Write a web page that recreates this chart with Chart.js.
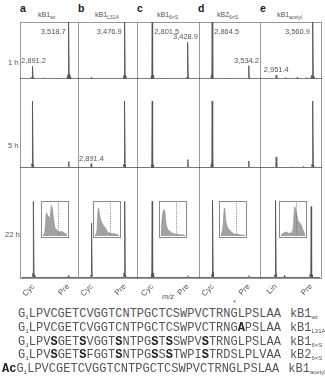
<!DOCTYPE html>
<html>
<head>
<meta charset="utf-8">
<script src="https://cdn.jsdelivr.net/npm/chart.js@4.4.1/dist/chart.umd.min.js"></script>
<style>
  body { margin: 0; background: #fff; }
  #fig { position: relative; width: 325px; height: 376px; overflow: hidden; font-family: "Liberation Sans", Arial, sans-serif; color: #444; }
  .abs { position: absolute; }
  .frame { position: absolute; box-sizing: border-box; border: 1px solid #999; }
  .letter { position: absolute; font-weight: bold; font-size: 10.5px; line-height: 1; color: #222; }
  .title { position: absolute; font-size: 7px; line-height: 1; color: #555; white-space: nowrap; }
  .title sub, .kb sub { font-size: 5px; vertical-align: -2px; line-height: 0; }
  .rowlab { position: absolute; font-size: 7.5px; line-height: 1; color: #555; white-space: nowrap; }
  .inset { position: absolute; box-sizing: border-box; border: 1px solid #888; background: #fff; }
  .seqline { position: absolute; left: 0; height: 14px; font-family: "Liberation Mono", monospace; font-size: 12px; line-height: 14px; color: #555; white-space: pre; }
  .seqline b { color: #222; }
  .g1 { position: relative; }
  .g1 .star { position: absolute; left: 2px; top: -7px; font-size: 7px; line-height: 1; }
  .s1 { font-size: 6px; vertical-align: -2px; line-height: 0; }
  .kb { margin-left: 9px; }
  .kb sub { font-family: "Liberation Sans", Arial, sans-serif; font-size: 6px; }
</style>
</head>
<body>
<div id="fig"></div>
<script>
// panels a-e, x range in m/z
const panelLetters = ['a', 'b', 'c', 'd', 'e'];
const titleMain = ['kB1', 'kB1', 'kB1', 'kB2', 'kB1'];
const titleSub = ['wt', 'L31A', '6\u00d7S', '6\u00d7S', 'acetyl'];
const mzMin = [2670, 2661, 2533, 2623, 2681];
const mzMax = [3697, 3708, 3643, 3758, 3712];
const tickMz = [[2891.2, 3518.7], [2891.4, 3476.9], [2801.5, 3428.9], [2864.5, 3534.2], [2951.4, 3560.9]];
const tickNames = [['Cyc', 'Pre'], ['Cyc', 'Pre'], ['Cyc', 'Pre'], ['Cyc', 'Pre'], ['Lin', 'Pre']];
const times = ['1 h', '5 h', '22 h'];

// peak lists [m/z, relative intensity]
const spec1h = [
  [[2876, 3], [2891.2, 22], [2906, 2], [3100, 1.5], [3300, 1], [3496, 4], [3508, 8], [3518.7, 100], [3530, 7], [3544, 3]],
  [[2891, 2], [3200, 1], [3460, 4], [3468, 7], [3476.9, 100], [3489, 5]],
  [[2786, 5], [2801.5, 100], [2815, 6], [2830, 3], [3000, 1], [3412, 3], [3428.9, 64], [3444, 3]],
  [[2850, 6], [2864.5, 100], [2879, 5], [3200, 1], [3534.2, 23], [3549, 2]],
  [[2951.4, 6], [3100, 1.5], [3300, 2], [3450, 1.5], [3530, 3], [3545, 6], [3560.9, 100], [3575, 5], [3590, 3]]
];
const spec5h = [
  [[2878, 6], [2891.2, 100], [2905, 5], [3518.7, 9]],
  [[2891.4, 6], [3200, 1], [3460, 5], [3476.9, 100], [3490, 4]],
  [[2788, 5], [2801.5, 100], [2815, 4], [3428.9, 12]],
  [[2850, 6], [2864.5, 100], [2878, 6], [3534.2, 10]],
  [[2951.4, 16], [3200, 1], [3400, 1.5], [3545, 5], [3560.9, 100], [3575, 4]]
];
const spec22h = [
  [[2878, 5], [2891.2, 87], [2905, 3], [3518.7, 2]],
  [[2878, 3], [2891.4, 62], [3460, 5], [3476.9, 87], [3490, 3]],
  [[2788, 4], [2801.5, 87], [2815, 5], [2830, 2], [3428.9, 2]],
  [[2850, 4], [2864.5, 88], [2878, 6], [3534.2, 2]],
  [[2935, 3], [2951.4, 88], [2965, 4], [3100, 2], [3545, 4], [3560.9, 81], [3575, 3]]
];
const spectra = [spec1h, spec5h, spec22h];

// peak annotations [m/z, text, side]
const labels1h = [
  [[3518.7, '3,518.7', 'left'], [2891.2, '2,891.2', 'above']],
  [[3476.9, '3,476.9', 'left']],
  [[2801.5, '2,801.5', 'right'], [3428.9, '3,428.9', 'above']],
  [[2864.5, '2,864.5', 'right'], [3534.2, '3,534.2', 'above']],
  [[3560.9, '3,560.9', 'left'], [2951.4, '2,951.4', 'above']]
];
const labels5h = [[], [[2891.4, '2,891.4', 'above']], [], [], []];
const labels22h = [[], [], [], [], []];
const peakLabels = [labels1h, labels5h, labels22h];

// HPLC insets at 22 h (relative absorbance)
const insetA = [2, 10, 70, 60, 55, 92, 60, 25, 18, 14, 12, 14, 10, 8, 3];
const insetB = [2, 10, 85, 55, 40, 32, 25, 15, 10, 8, 6, 8, 5, 4, 2];
const insetC = [3, 70, 80, 35, 20, 15, 10, 8, 6, 5, 5, 4, 4, 3, 2];
const insetD = [3, 20, 85, 40, 25, 18, 12, 8, 6, 5, 5, 4, 3, 3, 2];
const insetE = [2, 8, 10, 12, 10, 8, 10, 20, 88, 70, 45, 40, 30, 15, 5];
const insets = [insetA, insetB, insetC, insetD, insetE];
const insetMarks = [8.8, 8.8, 8.5, 8.8, 8.5];

// layout
const colX = [20, 78, 137, 199, 260];
const colW = [58, 59, 62, 61, 61];
const rowTop = [22, 101, 190];
const rowH = [79, 89, 88];
const axisH = 22;

Chart.defaults.font.family = '"Liberation Sans", Arial, sans-serif';
Chart.defaults.animation = false;

const fig = document.getElementById('fig');

function addDiv(cls, left, top, w, h, html) {
  const d = document.createElement('div');
  d.className = cls;
  d.style.left = left + 'px';
  d.style.top = top + 'px';
  if (w) d.style.width = w + 'px';
  if (h) d.style.height = h + 'px';
  if (html) d.innerHTML = html;
  fig.appendChild(d);
  return d;
}

function spikes(peaks, lo, hi) {
  const pts = [{ x: lo, y: 0 }];
  peaks.slice().sort((p, q) => p[0] - q[0]).forEach(p => {
    pts.push({ x: p[0] - 8, y: 0 }, { x: p[0], y: p[1] }, { x: p[0] + 8, y: 0 });
  });
  pts.push({ x: hi, y: 0 });
  return pts;
}

const peakLabelPlugin = {
  id: 'peakLabels',
  afterDatasetsDraw(chart, args, opts) {
    const ctx = chart.ctx, xs = chart.scales.x, ys = chart.scales.y, area = chart.chartArea;
    ctx.save();
    ctx.font = '7.5px "Liberation Sans", Arial, sans-serif';
    ctx.fillStyle = '#555';
    ctx.textBaseline = 'alphabetic';
    ctx.textAlign = 'left';
    (opts.items || []).forEach(it => {
      const x = xs.getPixelForValue(it[0]);
      const pk = opts.peaks.find(p => p[0] === it[0]);
      const yTop = ys.getPixelForValue(pk ? pk[1] : 0);
      const w = ctx.measureText(it[1]).width;
      let left, y;
      if (it[2] === 'left') {
        left = x - 3 - w;
        y = area.top + 12;
      } else if (it[2] === 'right') {
        left = x + 2;
        y = area.top + 12;
      } else {
        left = x - w / 2;
        y = yTop - 3;
      }
      // keep the label inside its panel
      left = Math.max(area.left + 1, Math.min(left, area.right - 2 - w));
      ctx.fillText(it[1], left, y);
    });
    ctx.restore();
  }
};

const markPlugin = {
  id: 'mark',
  afterDatasetsDraw(chart, args, opts) {
    const ctx = chart.ctx, a = chart.chartArea;
    const x = Math.round(chart.scales.x.getPixelForValue(opts.at)) + 0.5;
    ctx.save();
    ctx.strokeStyle = '#666';
    ctx.lineWidth = 0.8;
    ctx.setLineDash([1, 1.2]);
    ctx.beginPath();
    ctx.moveTo(x, a.top);
    ctx.lineTo(x, a.bottom);
    ctx.stroke();
    ctx.restore();
  }
};

// frames, letters, titles
for (let i = 0; i < 5; i++) {
  addDiv('frame', colX[i], 22, colW[i] + 1, 257);
  addDiv('letter', colX[i] + (i === 3 ? -1 : 0), 3, 0, 0, panelLetters[i]);
}
const titleX = [38, 95, 157, 217, 277];
for (let i = 0; i < 5; i++) {
  addDiv('title', titleX[i], 10.5, 0, 0, titleMain[i] + '<sub>' + titleSub[i] + '</sub>');
}
addDiv('rowlab', 8, 59, 0, 0, times[0]);
addDiv('rowlab', 8, 142, 0, 0, times[1]);
addDiv('rowlab', 5, 231, 0, 0, times[2]);
addDiv('rowlab', 162, 293, 0, 0, '<i>m/z</i>');

// spectra
for (let r = 0; r < 3; r++) {
  for (let i = 0; i < 5; i++) {
    const last = r === 2;
    const box = addDiv('abs', colX[i], rowTop[r], colW[i] + 1, rowH[r] + (last ? axisH : 0));
    const cv = document.createElement('canvas');
    box.appendChild(cv);
    const peaks = spectra[r][i];
    new Chart(cv, {
      type: 'line',
      data: {
        datasets: [{
          data: spikes(peaks, mzMin[i], mzMax[i]),
          borderColor: '#555',
          borderWidth: 0.9,
          pointRadius: 0,
          tension: 0
        }]
      },
      options: {
        responsive: true,
        maintainAspectRatio: false,
        layout: { padding: 0 },
        events: [],
        plugins: {
          legend: { display: false },
          tooltip: { enabled: false },
          peakLabels: { items: peakLabels[r][i], peaks: peaks }
        },
        scales: {
          x: {
            type: 'linear',
            min: mzMin[i],
            max: mzMax[i],
            display: last,
            grid: { display: false, drawTicks: false },
            border: { display: false },
            afterBuildTicks: s => { s.ticks = tickMz[i].map(v => ({ value: v })); },
            afterFit: s => { s.height = axisH; },
            ticks: {
              autoSkip: false,
              minRotation: 45,
              maxRotation: 45,
              padding: 4,
              color: '#555',
              font: { size: 8 },
              callback: (v, k) => tickNames[i][k]
            }
          },
          y: { min: -0.6, max: 100, display: false }
        }
      },
      plugins: [peakLabelPlugin]
    });
  }
}

// HPLC insets
const insetX = [41, 93, 159, 219, 279];
for (let i = 0; i < 5; i++) {
  const box = addDiv('inset', insetX[i], 201, 28, 37);
  box.style.zIndex = 5;
  const cv = document.createElement('canvas');
  box.appendChild(cv);
  new Chart(cv, {
    type: 'line',
    data: {
      datasets: [{
        data: insets[i].map((v, k) => ({ x: k, y: v })),
        fill: 'origin',
        backgroundColor: '#a2a2a2',
        borderColor: '#8c8c8c',
        borderWidth: 0.6,
        pointRadius: 0,
        tension: 0.3
      }]
    },
    options: {
      responsive: true,
      maintainAspectRatio: false,
      layout: { padding: { left: 1, right: 1, top: 1, bottom: 1 } },
      events: [],
      plugins: { legend: { display: false }, tooltip: { enabled: false }, mark: { at: insetMarks[i] } },
      scales: {
        x: { type: 'linear', min: 0, max: insets[i].length - 1, display: false },
        y: { min: 0, max: 100, display: false }
      }
    },
    plugins: [markPlugin]
  });
}

// sequences
const seqLines = [
  'G<span class="s1">1</span>LPVCGETCVGGTCNTPGCTCSWPVCTRN<span class="g1">G<span class="star">*</span></span>LPSLAA<span class="kb">kB1<sub>wt</sub></span>',
  'G<span class="s1">1</span>LPVCGETCVGGTCNTPGCTCSWPVCTRNG<b>A</b>PSLAA<span class="kb">kB1<sub>L31A</sub></span>',
  'G<span class="s1">1</span>LPV<b>S</b>GET<b>S</b>VGGT<b>S</b>NTPG<b>S</b>T<b>S</b>SWPV<b>S</b>TRNGLPSLAA<span class="kb">kB1<sub>6\u00d7S</sub></span>',
  'G<span class="s1">1</span>LPV<b>S</b>GET<b>S</b>FGGT<b>S</b>NTPG<b>S</b>S<b>S</b>TWPI<b>S</b>TRDSLPLVAA<span class="kb">kB2<sub>6\u00d7S</sub></span>',
  '<b>Ac</b>G<span class="s1">1</span>LPVCGETCVGGTCNTPGCTCSWPVCTRNGLPSLAA<span class="kb">kB1<sub>acetyl</sub></span>'
];
seqLines.forEach((h, k) => {
  addDiv('seqline', k === 4 ? 2 : 18, 307 + k * 13.8, 0, 0, h);
});
</script>
</body>
</html>
